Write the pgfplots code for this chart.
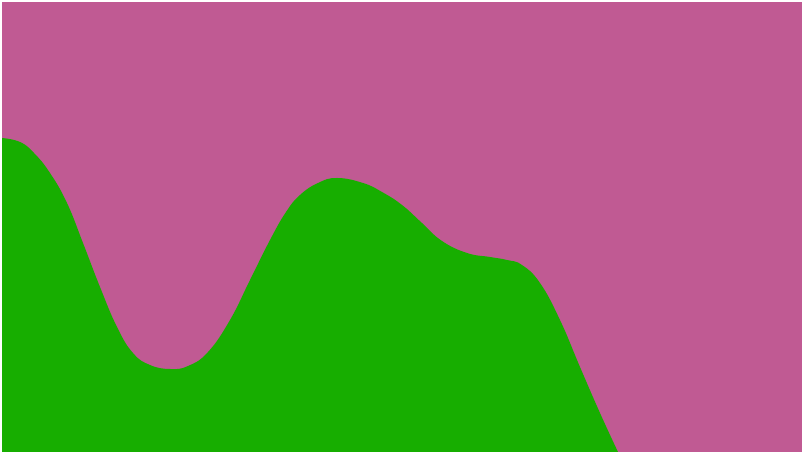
\documentclass[border=0pt]{standalone}
\usepackage{pgfplots}
\pgfplotsset{compat=1.18}
\definecolor{bgpink}{RGB}{192,90,147}
\definecolor{areagreen}{RGB}{23,174,0}
\begin{document}
\begin{tikzpicture}[x=1pt,y=1pt]
  % white frame around the plot area
  \fill[white] (-2pt,-2pt) rectangle (802pt,452pt);
  \begin{axis}[
    at={(0pt,0pt)}, anchor=south west,
    width=800pt, height=450pt, scale only axis,
    xmin=0, xmax=800, ymin=0, ymax=450,
    axis lines=none, ticks=none, clip=true
  ]
    \addplot[fill=bgpink, draw=none] coordinates {(0,450) (800,450)} \closedcycle;
    \addplot[fill=areagreen, draw=none, smooth, tension=0.75] coordinates {
      (0,314) (18,310) (32,299) (48,279) (65,249) (81,209) (98,165)
      (115,125) (131,99) (148,87) (168,83) (186,86) (206,100)
      (228,132) (248,172) (268,212) (284,240) (298,257) (316,269) (335,274)
      (361,269) (380,260) (400,247) (420,229) (440,211) (465,199)
      (488,195) (505,192) (520,187) (538,169) (558,132) (578,85) (598,39) (616,0)
    } \closedcycle;
  \end{axis}
\end{tikzpicture}
\end{document}
